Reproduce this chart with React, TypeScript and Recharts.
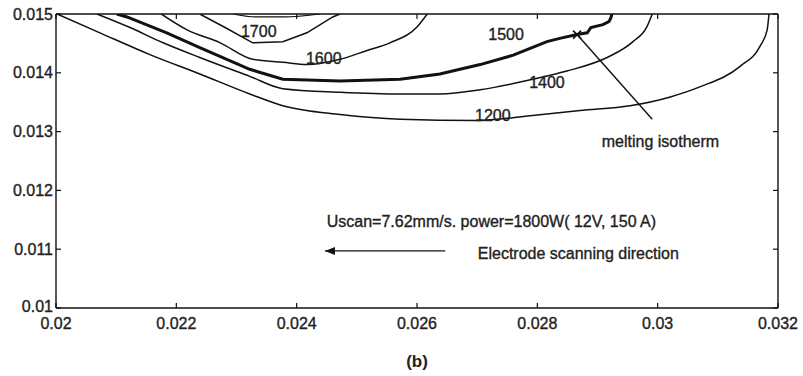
import { LineChart, Line, XAxis, YAxis, ReferenceDot, Label } from "recharts"

const xTicks = [0.02, 0.022, 0.024, 0.026, 0.028, 0.03, 0.032]
const yTicks = [0.01, 0.011, 0.012, 0.013, 0.014, 0.015]

// isotherms (x, y in m)
const iso1200X = [0.02002, 0.02073, 0.02156, 0.02239, 0.02322, 0.02377, 0.02472, 0.02572, 0.027, 0.02788, 0.02871, 0.02954, 0.03021, 0.0307, 0.03137, 0.0317, 0.03182, 0.03185]
const iso1200Y = [0.015, 0.01468, 0.01431, 0.01398, 0.01364, 0.01344, 0.01329, 0.01321, 0.01319, 0.01327, 0.01336, 0.01344, 0.01359, 0.01376, 0.01411, 0.01445, 0.01473, 0.015]

const iso1400X = [0.02068, 0.02123, 0.02178, 0.02239, 0.02322, 0.02377, 0.02472, 0.02572, 0.02638, 0.02705, 0.02788, 0.02849, 0.02916, 0.02959, 0.02982, 0.02991]
const iso1400Y = [0.015, 0.01477, 0.01451, 0.01426, 0.01394, 0.01373, 0.01367, 0.01364, 0.01364, 0.01371, 0.01388, 0.01403, 0.01426, 0.01453, 0.01478, 0.015]

const iso1500X = [0.02101, 0.02118, 0.02184, 0.02239, 0.02322, 0.02377, 0.02472, 0.02572, 0.02638, 0.02705, 0.0276, 0.02816, 0.02839, 0.02866, 0.02883, 0.02889, 0.02909, 0.02919, 0.02922, 0.02924]
const iso1500Y = [0.015, 0.01495, 0.01468, 0.01443, 0.01406, 0.01389, 0.01386, 0.01389, 0.01398, 0.01414, 0.0143, 0.01453, 0.01459, 0.01465, 0.01468, 0.01477, 0.01482, 0.01487, 0.01493, 0.015]

const iso1600X = [0.02175, 0.02218, 0.02273, 0.02327, 0.02377, 0.02417, 0.02472, 0.02517, 0.02555, 0.026, 0.02617]
const iso1600Y = [0.015, 0.01473, 0.01451, 0.01423, 0.01418, 0.01414, 0.01423, 0.01438, 0.01451, 0.01478, 0.015]

const iso1700X = [0.02239, 0.02281, 0.02327, 0.02377, 0.02417, 0.0246, 0.02472]
const iso1700Y = [0.015, 0.01477, 0.01451, 0.01453, 0.01468, 0.01495, 0.015]

const iso1800X = [0.02294, 0.02331, 0.02381, 0.02439]
const iso1800Y = [0.015, 0.01495, 0.01495, 0.015]

const isoLabels = ["1700", "1600", "1500", "1400", "1200"]
const isoLabelX = [0.02337, 0.02445, 0.02748, 0.02816, 0.02726]
const isoLabelY = [0.01471, 0.01425, 0.01466, 0.01383, 0.01328]

const arrowX = [0.02647, 0.02447]
const arrowY = [0.01097, 0.01097]
const leaderX = [0.02866, 0.02991]
const leaderY = [0.01465, 0.01321]

const zip = (xs: number[], ys: number[]) => xs.map((x, i) => ({ x, y: ys[i] }))

const font = "'Liberation Sans', Arial, sans-serif"
const ink = "#111"
const textInk = "#222"
const textStyle = { fill: textInk, fontSize: 16, fontFamily: font, stroke: textInk, strokeWidth: 0.35 }

const ArrowHead = (p: any) => {
  if (p.index !== 1) return <g key={p.key ?? p.index} />
  const { cx, cy } = p
  return <path key={p.key ?? p.index} d={`M${cx},${cy} L${cx + 10},${cy - 4} L${cx + 10},${cy + 4} Z`} fill={ink} />
}

const CrossMark = (p: any) => {
  if (p.index !== 0) return <g key={p.key ?? p.index} />
  const { cx, cy } = p
  return <path key={p.key ?? p.index} d={`M${cx - 4},${cy - 4} L${cx + 4},${cy + 4} M${cx - 4},${cy + 4} L${cx + 4},${cy - 4}`} stroke={ink} strokeWidth={1.6} />
}

const NoTick = () => <g />

const XTick = (p: any) => (
  <text x={p.x} y={p.y} dy="0.71em" textAnchor="middle" {...textStyle}>{p.payload.value}</text>
)

const YTick = (p: any) => (
  <text x={p.x} y={p.y} dy={p.payload.value === 0.01 ? "0.22em" : "0.355em"} textAnchor="end" {...textStyle}>{p.payload.value}</text>
)

export default function App() {
  const common = { dataKey: "y", dot: false, isAnimationActive: false, stroke: ink }
  const inner = { stroke: ink, strokeWidth: 1.2 }
  return (
    <div style={{ position: "absolute", left: 0, top: 0, background: "#fff" }}>
      <LineChart width={803} height={376} margin={{ top: 14, right: 25, bottom: 8, left: 6 }}>
        <XAxis xAxisId="x" dataKey="x" type="number" domain={[0.02, 0.032]} ticks={xTicks} interval={0}
          allowDataOverflow tickLine={false} tickSize={0} tickMargin={10} height={60}
          axisLine={{ stroke: ink, strokeWidth: 1.4 }} tick={XTick}>
          <Label value="(b)" position="insideBottom" offset={1} fill={textInk} fontSize={17} fontWeight="bold" fontFamily={font} />
        </XAxis>
        <XAxis xAxisId="xin" dataKey="x" type="number" domain={[0.02, 0.032]} ticks={xTicks} interval={0} mirror
          allowDataOverflow tick={NoTick} tickSize={5} tickLine={inner} axisLine={false} />
        <XAxis xAxisId="xtop" dataKey="x" orientation="top" type="number" domain={[0.02, 0.032]} ticks={xTicks} interval={0} mirror
          allowDataOverflow tick={NoTick} tickSize={5} tickLine={inner} axisLine={{ stroke: ink, strokeWidth: 1.4 }} />
        <YAxis yAxisId="y" dataKey="y" type="number" domain={[0.01, 0.015]} ticks={yTicks} interval={0}
          allowDataOverflow width={50} tickLine={false} tickSize={0} tickMargin={3}
          axisLine={{ stroke: ink, strokeWidth: 1.4 }} tick={YTick} />
        <YAxis yAxisId="yin" dataKey="y" type="number" domain={[0.01, 0.015]} ticks={yTicks} interval={0} mirror
          allowDataOverflow tick={NoTick} tickSize={5} tickLine={inner} axisLine={false} />
        <YAxis yAxisId="yright" dataKey="y" orientation="right" type="number" domain={[0.01, 0.015]} ticks={yTicks} interval={0} mirror
          allowDataOverflow tick={NoTick} tickSize={5} tickLine={inner} axisLine={{ stroke: ink, strokeWidth: 1.4 }} />

        <Line {...common} xAxisId="x" yAxisId="y" type="monotone" data={zip(iso1200X, iso1200Y)} strokeWidth={1.5} />
        <Line {...common} xAxisId="xin" yAxisId="yin" type="monotone" data={zip(iso1400X, iso1400Y)} strokeWidth={1.5} />
        <Line {...common} xAxisId="x" yAxisId="y" type="linear" data={zip(iso1500X, iso1500Y)} strokeWidth={3} />
        <Line {...common} xAxisId="xtop" yAxisId="yright" type="monotone" data={zip(iso1600X, iso1600Y)} strokeWidth={1.5} />
        <Line {...common} xAxisId="x" yAxisId="y" type="linear" data={zip(iso1700X, iso1700Y)} strokeWidth={1.5} />
        <Line {...common} xAxisId="x" yAxisId="y" type="monotone" data={zip(iso1800X, iso1800Y)} strokeWidth={1.2} />
        <Line {...common} xAxisId="x" yAxisId="y" type="linear" data={zip(arrowX, arrowY)} strokeWidth={1.3} dot={ArrowHead} />
        <Line {...common} xAxisId="x" yAxisId="y" type="linear" data={zip(leaderX, leaderY)} strokeWidth={1.4} dot={CrossMark} />

        {isoLabels.map((t, i) => (
          <ReferenceDot key={t} xAxisId="x" yAxisId="y" x={isoLabelX[i]} y={isoLabelY[i]} r={0} stroke="none"
            label={{ value: t, position: "center", ...textStyle }} />
        ))}
        <ReferenceDot xAxisId="x" yAxisId="y" x={0.02907} y={0.01284} r={0} stroke="none"
          label={{ value: "melting isotherm", position: "right", offset: 0, ...textStyle }} />
        <ReferenceDot xAxisId="x" yAxisId="y" x={0.0245} y={0.01147} r={0} stroke="none"
          label={{ value: "Uscan=7.62mm/s. power=1800W( 12V, 150 A)", position: "right", offset: 0, ...textStyle }} />
        <ReferenceDot xAxisId="x" yAxisId="y" x={0.02701} y={0.01093} r={0} stroke="none"
          label={{ value: "Electrode scanning direction", position: "right", offset: 0, ...textStyle }} />
      </LineChart>
    </div>
  )
}
